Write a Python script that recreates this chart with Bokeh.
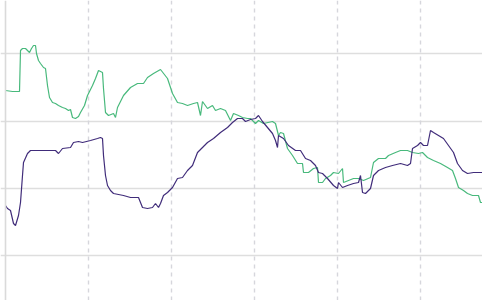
from bokeh.plotting import figure
from bokeh.models import Range1d, FixedTicker, Grid, Span
from bokeh.embed import file_html
from bokeh.resources import INLINE

# Series (x in sample units, y in value units)
green_x = [0, 7, 14, 15, 17, 20, 22, 24, 26, 28,
           30, 31, 33, 35, 38, 40, 42, 44, 47, 50,
           53, 57, 60, 63, 65, 67, 70, 73, 75, 79,
           82, 87, 90, 93, 97, 98, 100, 103, 108, 110,
           112, 118, 125, 132, 138, 142, 148, 155, 162, 167,
           172, 177, 182, 188, 192, 195, 197, 202, 207, 210,
           215, 220, 225, 228, 233, 237, 242, 245, 250, 253,
           258, 267, 270, 273, 275, 278, 282, 287, 292, 297,
           298, 303, 308, 312, 313, 317, 320, 325, 328, 333,
           337, 338, 343, 348, 353, 358, 365, 368, 373, 380,
           383, 390, 395, 402, 407, 413, 417, 422, 428, 435,
           442, 447, 450, 453, 458, 462, 467, 473, 475, 477]
green_y = [165, 164, 164, 205, 207, 207, 205, 203, 207, 210,
           210, 202, 195, 192, 188, 187, 170, 158, 153, 152,
           150, 148, 147, 145, 146, 138, 137, 139, 143, 150,
           160, 170, 177, 185, 183, 167, 143, 140, 142, 138,
           148, 160, 168, 172, 172, 178, 182, 186, 177, 162,
           153, 152, 150, 152, 153, 140, 154, 147, 150, 145,
           147, 145, 135, 142, 140, 138, 137, 137, 132, 135,
           132, 134, 132, 120, 123, 122, 107, 100, 92, 92,
           83, 83, 87, 88, 73, 73, 77, 80, 83, 82,
           87, 73, 75, 77, 77, 75, 78, 93, 97, 97,
           100, 103, 105, 105, 103, 102, 103, 98, 95, 92,
           88, 85, 77, 68, 65, 62, 60, 60, 53, 53]

purple_x = [0, 2, 5, 8, 10, 13, 15, 17, 18, 22,
            25, 32, 42, 50, 53, 57, 65, 68, 73, 77,
            85, 92, 95, 97, 98, 100, 102, 105, 108, 118,
            125, 133, 137, 142, 147, 150, 153, 155, 158, 162,
            167, 172, 177, 182, 187, 192, 197, 202, 208, 215,
            222, 227, 232, 237, 240, 245, 250, 253, 257, 262,
            267, 270, 272, 273, 278, 283, 290, 295, 300, 305,
            310, 313, 317, 322, 328, 332, 333, 337, 342, 348,
            353, 355, 357, 360, 365, 368, 373, 380, 387, 395,
            402, 405, 407, 412, 415, 418, 422, 425, 428, 433,
            438, 443, 448, 452, 457, 462, 468, 475, 477]
purple_y = [50, 47, 45, 32, 30, 40, 53, 80, 93, 102,
            105, 105, 105, 105, 102, 107, 108, 113, 114, 113,
            115, 117, 118, 117, 100, 80, 70, 65, 62, 60,
            58, 58, 48, 47, 48, 52, 48, 52, 60, 63,
            68, 77, 78, 85, 90, 103, 108, 113, 117, 123,
            128, 133, 137, 137, 134, 136, 137, 140, 134, 128,
            122, 115, 108, 120, 117, 110, 105, 105, 97, 95,
            90, 83, 82, 77, 70, 67, 73, 68, 70, 72,
            73, 80, 63, 62, 67, 80, 85, 88, 90, 92,
            90, 92, 107, 110, 113, 110, 110, 125, 123, 120,
            117, 110, 103, 92, 85, 82, 83, 83, 83]

x_ticks = [83, 166, 249, 332, 415]
y_ticks = [0, 67, 134, 202]

p = figure(width=482, height=300, output_backend="svg", toolbar_location=None,
           x_axis_location=None, y_axis_location=None,
           x_range=Range1d(-5, 477), y_range=Range1d(-45, 255),
           min_border=0, min_border_left=0, min_border_right=0,
           min_border_top=0, min_border_bottom=0)
p.outline_line_color = None
p.background_fill_color = "white"
p.border_fill_color = "white"

# remove default grids
p.center = [r for r in p.center if not isinstance(r, Grid)]

p.add_layout(Grid(dimension=1, ticker=FixedTicker(ticks=y_ticks),
                  grid_line_color="#dedede", grid_line_width=1.6))
p.add_layout(Grid(dimension=0, ticker=FixedTicker(ticks=x_ticks),
                  grid_line_color="#d6d6dc", grid_line_width=1.4,
                  grid_line_dash="4 4"))
p.add_layout(Span(location=0, dimension="height", line_color="#dadada",
                  line_width=1.6))

p.line(green_x, green_y, line_color="#48b97c", line_width=1.2)
p.line(purple_x, purple_y, line_color="#402c7a", line_width=1.2)

open("out.html", "w").write(file_html(p, INLINE))
